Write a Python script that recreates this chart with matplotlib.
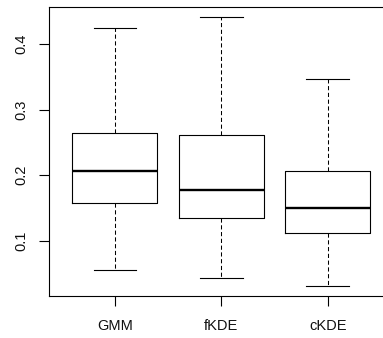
import matplotlib
matplotlib.use("Agg")
import matplotlib.pyplot as plt

# Five-number summaries for each method
methods = ["GMM", "fKDE", "cKDE"]
whisker_low = [0.0555, 0.0433, 0.0316]
q1 = [0.1573, 0.1346, 0.1122]
median = [0.2070, 0.1775, 0.1500]
q3 = [0.2641, 0.2606, 0.2064]
whisker_high = [0.4237, 0.4404, 0.3462]
yticks = [0.1, 0.2, 0.3, 0.4]

plt.rcParams["font.family"] = ["Liberation Sans", "DejaVu Sans"]

W, H = 383, 338
fig = plt.figure(figsize=(W / 100, H / 100), dpi=100)
left, right, top, bottom = 49, 393.6, 6.7, 296.3
ax = fig.add_axes([left / W, (H - bottom) / H, (right - left) / W, (bottom - top) / H])

stats = [
    dict(label=m, whislo=wl, q1=a, med=md, q3=b, whishi=wh, fliers=[])
    for m, wl, a, md, b, wh in zip(methods, whisker_low, q1, median, q3, whisker_high)
]
positions = list(range(1, len(methods) + 1))
ax.bxp(
    stats,
    positions=positions,
    widths=0.8,
    capwidths=0.4,
    showfliers=False,
    boxprops=dict(color="black", linewidth=0.8),
    medianprops=dict(color="black", linewidth=1.7, solid_capstyle="butt"),
    whiskerprops=dict(color="black", linewidth=0.75, linestyle=(0, (4, 2.5))),
    capprops=dict(color="black", linewidth=0.8),
)

# R-style axis ranges: 4% padding around the data
lo, hi = min(whisker_low), max(whisker_high)
pad = 0.04 * (hi - lo)
ax.set_ylim(lo - pad, hi + pad)
ax.set_xlim(0.5 - 0.12, len(methods) + 0.5 + 0.12)

ax.set_xticks(positions)
ax.set_xticklabels(methods)
ax.set_yticks(yticks)
ax.set_yticklabels([f"{v:g}" for v in yticks])

for s in ax.spines.values():
    s.set_linewidth(0.8)
    s.set_color("black")

ax.tick_params(axis="both", length=7, width=0.8, color="black",
               labelsize=10.5, labelcolor="#111111")
ax.tick_params(axis="x", pad=9)
ax.tick_params(axis="y", pad=8)
for lab in ax.get_yticklabels():
    lab.set_rotation(90)
    lab.set_va("center")

fig.savefig("out.png", dpi=100)
